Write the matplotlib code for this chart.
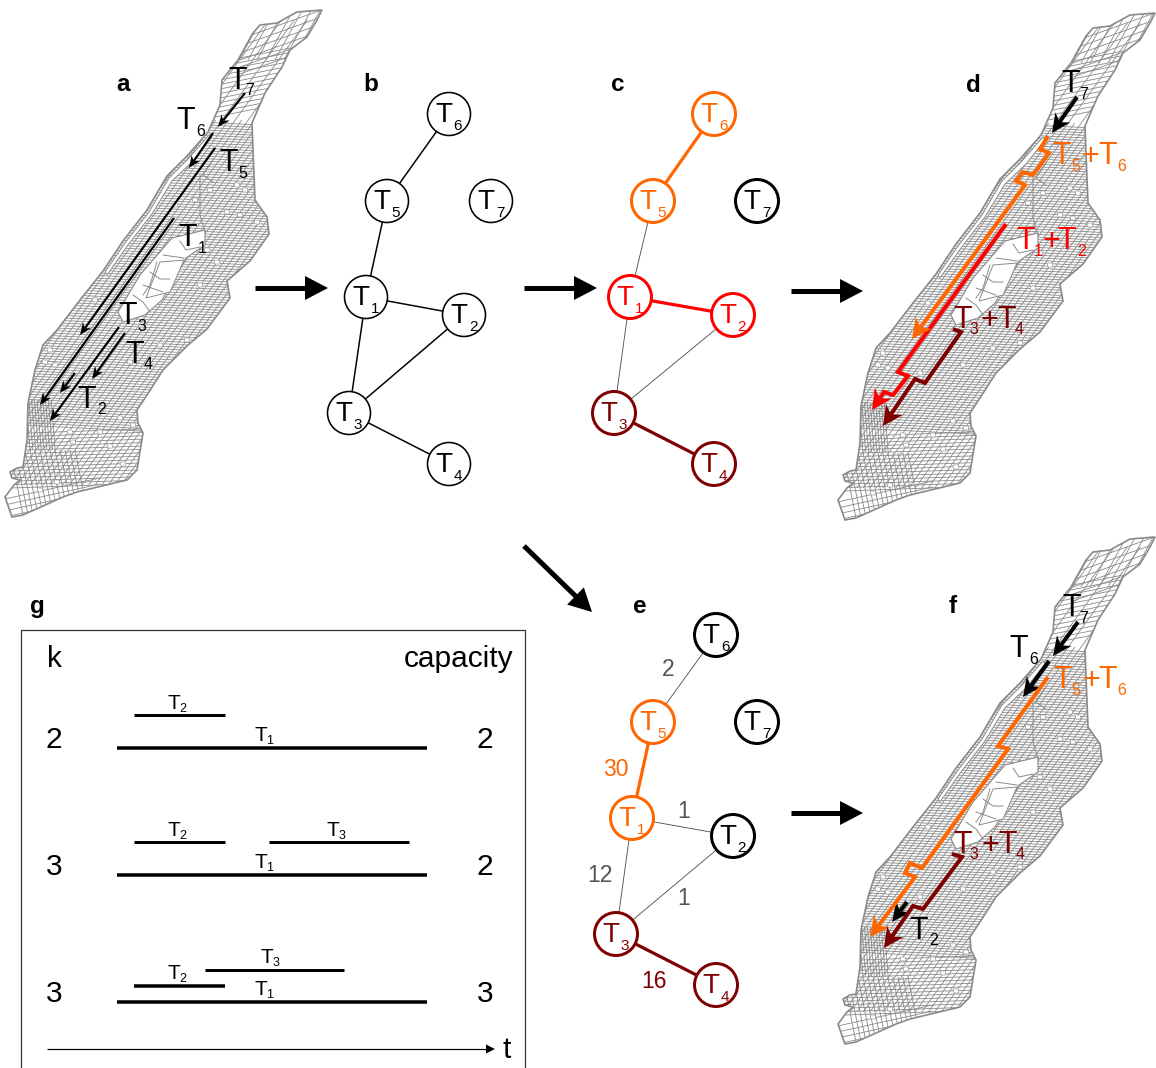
import numpy as np
import matplotlib
matplotlib.use("Agg")
import matplotlib.pyplot as plt
from matplotlib.patches import Polygon, Circle, Rectangle
from matplotlib.collections import LineCollection

plt.rcParams['font.family'] = ['Liberation Sans', 'DejaVu Sans']

ORANGE, RED, DARK, GREY = '#FF6600', '#FF0000', '#7F0000', '#555555'
MAPC = '#8a8a8a'

# Manhattan outline in pixels of panel a
outline = np.array([(12,517),(5,497),(14,485),(20,480),(12,478),(10,472),(17,468),(23,467),(27,440),(28,403),(35,370),
    (43,345),(57,330),(80,300),(103,271),(123,241),(147,210),(167,176),(187,156),(208,132),(220,105),
    (222,80),(238,60),(253,33),(260,25),(277,23),(297,12),(322,10),(317,20),(307,37),(290,50),(282,67),
    (265,93),(252,123),(253,150),(255,200),(267,217),(269,234),(250,261),(227,281),(230,298),(207,329),
    (187,346),(163,370),(147,395),(137,410),(138,423),(143,433),(137,470),(127,480),(77,492),(63,497),(23,515)])
park = np.array([(172,238),(205,230),(205,245),(186,258),(162,300),(145,315),(123,322),(118,312),(140,275)])
reservoir = np.array([(160,262),(184,260),(170,292),(146,298)])
park_paths = [
    [(180,241),(186,250),(200,247)], [(163,255),(184,258)], [(150,272),(160,279),(170,279)],
    [(143,285),(163,292)], [(133,295),(143,302),(150,312)], [(157,262),(150,285),(143,295)],
    [(200,175),(200,215),(205,232)], [(213,160),(203,175),(213,182)]]
riverside = np.array([(105,272),(125,243),(149,212),(169,178),(189,158),(210,134),(212,137),(193,161),(172,181),
    (152,214),(128,245),(107,275)])
blocks = np.array([(50,350),(45,362),(55,365),(227,212),(210,190),(237,185),(245,190),(130,362),(110,446),(70,432),
    (100,432),(123,464),(133,425),(120,418),(217,262),(207,250),(187,340),(160,345),(87,370),(73,442),(57,482),
    (40,490),(257,222),(240,215),(200,285),(175,205),(195,200),(95,300)])

# graph panels
node_names = ['1', '2', '3', '4', '5', '6', '7']
b_x = [366, 464, 349, 449, 387, 449, 491]
b_y = [297, 315, 413, 464, 201, 114, 201]
c_x = [630, 733, 614, 714, 653, 714, 757]
c_y = [297, 315, 413, 464, 201, 114, 201]
e_x = [632, 733, 616, 716, 653, 716, 757]
e_y = [818, 836, 934, 985, 722, 635, 722]
edges = [(5,4),(4,0),(0,1),(0,2),(1,2),(2,3)]
c_colors = [RED, RED, DARK, DARK, ORANGE, ORANGE, 'black']
e_colors = [ORANGE, 'black', DARK, DARK, ORANGE, 'black', 'black']
c_edge = {(5,4):ORANGE,(0,1):RED,(2,3):DARK}
e_edge = {(4,0):ORANGE,(2,3):DARK}
e_labels = ['2','30','1','12','1','16']
e_label_x = [668,616,684,600,684,654]
e_label_y = [668,768,810,874,897,980]
e_label_c = [GREY,ORANGE,GREY,GREY,GREY,DARK]

# routes in panel a (start, end)
a_routes = {'7':[(245,93),(218,127)], '6':[(213,133),(189,168)], '5':[(215,148),(80,335)],
            '1':[(174,218),(40,405)], '3':[(119,327),(50,421)], '4':[(125,333),(92,379)], '2':[(75,373),(60,393)]}
a_labels = [('7',238,78,250,89),('6',186,118,201,130),('5',229,160,243,172),('1',188,235,202,247),
            ('3',128,313,142,325),('4',135,352,148,363),('2',87,397,102,408)]

d_black = [(1077,97),(1052,133)]
d_orange = [(1048,136),(1040,149),(1049,153),(1033,175),(1023,172),(1016,181),(1025,185),(912,339)]
d_red = [(1006,224),(898,372),(908,376),(893,395),(884,392),(872,410)]
d_dark = [(953,329),(961,332),(925,383),(915,379),(883,426)]
f_black = [[(1078,622),(1053,656)],[(1049,661),(1023,697)],[(907,902),(892,922)]]
f_orange = [(1048,677),(998,746),(1008,749),(922,868),(910,863),(905,873),(915,877),(870,937)]
f_dark = [(952,854),(962,857),(923,909),(913,906),(884,948)]

# panel g rows
g_lines = [(134,225,715,3),(117,427,748,3.5),(134,225,842,3),(269,409,842,3),(117,427,875,3.5),
           (205,344,970,3),(134,225,986,3.5),(117,427,1002,3.5)]
g_labels = [('2',178,702),('1',265,734),('2',178,829),('3',337,829),('1',265,861),('3',271,956),('2',178,972),('1',265,988)]
k_values = ['2','3','3']
capacity_values = ['2','2','3']
row_y = [738,865,992]

fig = plt.figure(figsize=(11.56,10.68), dpi=100)
ax = fig.add_axes([0,0,1,1])
ax.set_xlim(0,1156); ax.set_ylim(1068,0); ax.axis('off')
PX = 0.72


def ctext(x, y, s, size, color='black', z=5, **kw):
    """Text whose digit/capital height is centred on y."""
    ax.text(x, y + 0.345 * size * 100 / 72, s, color=color, fontsize=size, ha='center', va='baseline', zorder=z, **kw)


def street_segments(dx, dy):
    segs = []
    ux = 135 / 187
    for y0 in np.arange(118, 432, 2.6):          # cross streets
        segs.append([(0, y0 - 6), (340, y0 - 6 + 340*0.05)])
    for y0 in np.arange(432, 488, 3.4):
        segs.append([(0, y0 + 2), (170, y0 - 4)])
    for y0 in np.arange(488, 520, 6):
        segs.append([(0, y0 + 12), (100, y0 - 10)])
    for x0 in np.arange(-120, 420, 6.5):         # avenues
        segs.append([(x0 - 35*ux, 450 + 35), (x0 + 330*ux, 450 - 330)])
    for x0 in np.arange(-120, 420, 13):
        segs.append([(x0 + 330*ux, 450 - 330), (x0 + 430*ux, 450 - 430)])
    for y0 in np.arange(60, 118, 4.5):
        segs.append([(200, y0 + 6), (290, y0 - 12)])
    for y0 in np.arange(0, 60, 7):
        segs.append([(240, y0 + 18), (330, y0 - 14)])
    for x0 in np.arange(230, 330, 9):
        segs.append([(x0, 60), (x0 + 30, 5)])
    for x0 in np.arange(26, 52, 2.8):            # dense downtown patch
        segs.append([(x0, 400), (x0 + 4, 450)])
    for x0 in np.arange(10, 80, 5):
        segs.append([(x0, 450), (x0 + 14, 520)])
    return [[(x + dx, y + dy) for x, y in s] for s in segs]


def draw_map(dx, dy):
    off = np.array([dx, dy])
    border = Polygon(outline + off, closed=True, fc='white', ec='none', zorder=1)
    ax.add_patch(border)
    lc = LineCollection(street_segments(dx, dy), colors=MAPC, linewidths=0.6, zorder=1.1)
    ax.add_collection(lc)
    lc.set_clip_path(border)
    for bx, by in blocks:
        ax.add_patch(Polygon(np.array([(bx-3,by-2),(bx+2,by-2),(bx+3,by+2),(bx-2,by+2)]) + off,
                             fc='white', ec=MAPC, lw=0.4, zorder=1.2))
    ax.add_patch(Polygon(riverside + off, closed=True, fc='white', ec=MAPC, lw=0.7, zorder=1.25))
    ax.add_patch(Polygon(park + off, closed=True, fc='white', ec=MAPC, lw=0.8, zorder=1.3))
    ax.add_patch(Polygon(reservoir + off, closed=True, fc='white', ec=MAPC, lw=0.7, zorder=1.35))
    for p in park_paths:
        ax.plot(*(np.array(p) + off).T, color=MAPC, lw=0.7, zorder=1.4)
    ax.add_patch(Polygon(outline + off, closed=True, fc='none', ec=MAPC, lw=1.2, zorder=1.5))


def arrow(points, color='black', w=2, hl=10, hw=9, notch=0.7, z=3):
    pts = np.array(points, float)
    end, prev = pts[-1], pts[-2]
    u = (end - prev) / np.hypot(*(end - prev))
    n = np.array([-u[1], u[0]])
    line = pts.copy()
    line[-1] = end - u * hl * min(notch, 0.9)
    ax.plot(line[:,0], line[:,1], color=color, lw=w*PX, solid_capstyle='butt', solid_joinstyle='miter', zorder=z)
    head = [end, end - u*hl + n*hw/2, end - u*hl*notch, end - u*hl - n*hw/2]
    ax.add_patch(Polygon(head, closed=True, fc=color, ec='none', zorder=z+0.1))


def tlabel(sub, x, y, sx, sy, color='black', size=22, ssize=11.5, z=5):
    ctext(x, y, 'T', size, color, z)
    ctext(sx, sy, sub, ssize, color, z)


def plus(x, y, color):
    ctext(x, y, '+', 22, color)


def graph(xs, ys, ncolors, ecolors, nlw, base_w, base_c):
    for (i, j) in edges:
        col = ecolors.get((i, j))
        ax.plot([xs[i], xs[j]], [ys[i], ys[j]], color=col or base_c, lw=(3.2 if col else base_w)*PX, zorder=2)
    for k, name in enumerate(node_names):
        ax.add_patch(Circle((xs[k], ys[k]), 21.5, fc='white', ec=ncolors[k], lw=nlw*PX, zorder=3))
        tlabel(name, xs[k]-5.5, ys[k]-2, xs[k]+9, ys[k]+11, ncolors[k], size=20, ssize=11)


draw_map(0, 0)
draw_map(833, 3)
draw_map(833, 527)

# panel a
for key, pts in a_routes.items():
    arrow(pts, w=2.2, hl=12, hw=10)
for lab in a_labels:
    tlabel(*lab)

# panel d
arrow(d_orange, ORANGE, w=4, hl=20, hw=20)
arrow(d_red, RED, w=4, hl=20, hw=20)
arrow(d_dark, DARK, w=4, hl=20, hw=20)
arrow(d_black, 'black', w=4, hl=19, hw=18)
tlabel('7', 1071, 81, 1084, 93)
tlabel('5', 1062, 153, 1076, 165, ORANGE); plus(1090, 154, ORANGE); tlabel('6', 1108, 153, 1122, 165, ORANGE)
tlabel('1', 1026, 238, 1038, 250, RED); plus(1051, 239, RED); tlabel('2', 1067, 238, 1082, 250, RED)
tlabel('3', 963, 317, 974, 328, DARK); plus(989, 318, DARK); tlabel('4', 1007, 317, 1019, 328, DARK)

# panel f
arrow(f_orange, ORANGE, w=4, hl=20, hw=20)
arrow(f_dark, DARK, w=4, hl=20, hw=20)
for pts in f_black:
    arrow(pts, 'black', w=4, hl=19, hw=18, z=2.8)
tlabel('7', 1072, 605, 1084, 617)
tlabel('6', 1019, 646, 1034, 658)
tlabel('2', 919, 928, 934, 939)
tlabel('5', 1063, 677, 1076, 689, ORANGE); plus(1091, 678, ORANGE); tlabel('6', 1108, 677, 1122, 689, ORANGE)
tlabel('3', 963, 842, 974, 853, DARK); plus(990, 843, DARK); tlabel('4', 1008, 842, 1020, 853, DARK)

# graphs
graph(b_x, b_y, ['black']*7, {}, 1.6, 1.5, 'black')
graph(c_x, c_y, c_colors, c_edge, 3, 0.9, GREY)
graph(e_x, e_y, e_colors, e_edge, 3, 0.9, GREY)
for t, x, y, c in zip(e_labels, e_label_x, e_label_y, e_label_c):
    ctext(x, y, t, 16.5, c)

# big arrows
for p0, p1 in [((255,288),(328,288)),((524,288),(597,288)),((791,291),(863,291)),((524,546),(592,612)),((791,813),(863,813))]:
    arrow([p0, p1], 'black', w=5, hl=23, hw=24, notch=1.0)

# panel letters
for t, x, y in [('a',123,91),('b',371,91),('c',618,91),('d',973,92),('e',640,613),('f',953,613),('g',37,613)]:
    ax.text(x, y, t, fontsize=17.5, fontweight='bold', ha='center', va='baseline', zorder=6)

# panel g
ax.add_patch(Rectangle((21,630), 504, 460, fc='none', ec='#333333', lw=0.9, zorder=2))
for x0, x1, y, w in g_lines:
    ax.plot([x0, x1], [y, y], color='black', lw=w*PX, solid_capstyle='butt', zorder=3)
for sub, x, y in g_labels:
    tlabel(sub, x-4, y, x+5, y+6, 'black', size=15, ssize=9)
ax.text(54, 667, 'k', fontsize=21.5, ha='center', va='baseline')
ax.text(459, 667, 'capacity', fontsize=21.5, ha='center', va='baseline')
for k, c, y in zip(k_values, capacity_values, row_y):
    ctext(54, y, k, 21.5)
    ctext(485, y, c, 21.5)
arrow([(47,1049),(495,1049)], 'black', w=1.2, hl=9, hw=9, notch=1.0)
ax.text(507, 1058, 't', fontsize=21.5, ha='center', va='baseline')

fig.savefig('out.png', dpi=100)
